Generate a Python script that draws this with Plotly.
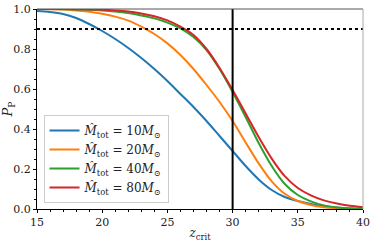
import plotly.graph_objects as go

z_crit = list(range(15, 41))

p_10 = [0.99, 0.985, 0.975, 0.955, 0.925, 0.89, 0.85, 0.805, 0.755, 0.70, 0.64, 0.575, 0.51,
        0.44, 0.365, 0.29, 0.215, 0.148, 0.095, 0.06, 0.04, 0.025, 0.014, 0.007, 0.003, 0.001]
p_20 = [1.0, 0.999, 0.997, 0.993, 0.986, 0.976, 0.962, 0.942, 0.912, 0.875, 0.828, 0.77, 0.70,
        0.62, 0.535, 0.44, 0.333, 0.228, 0.138, 0.076, 0.04, 0.02, 0.009, 0.004, 0.002, 0.001]
p_40 = [1.0, 1.0, 0.999, 0.998, 0.996, 0.993, 0.988, 0.98, 0.968, 0.953, 0.932, 0.903, 0.86,
        0.795, 0.70, 0.585, 0.46, 0.33, 0.215, 0.125, 0.07, 0.038, 0.018, 0.008, 0.003, 0.001]
p_80 = [1.0, 1.0, 1.0, 0.999, 0.998, 0.996, 0.993, 0.988, 0.978, 0.964, 0.943, 0.912, 0.87,
        0.80, 0.705, 0.595, 0.478, 0.36, 0.252, 0.164, 0.105, 0.068, 0.043, 0.027, 0.016, 0.009]

series = [
    ("10", p_10, "#1f77b4"),
    ("20", p_20, "#ff7f0e"),
    ("40", p_40, "#2ca02c"),
    ("80", p_80, "#d62728"),
]

threshold = 0.9
z_mark = 30

FONT = "DejaVu Serif"

fig = go.Figure()
for m, vals, col in series:
    fig.add_trace(go.Scatter(
        x=z_crit, y=vals, mode="lines",
        line=dict(color=col, width=2, shape="spline", smoothing=0.8),
        name=f"<i>M̂</i><sub>tot</sub> = {m}<i>M</i><sub>⊙</sub>",
    ))

fig.add_hline(y=threshold, line=dict(color="black", width=2, dash="dot"))
fig.add_vline(x=z_mark, line=dict(color="black", width=2))

# top and right frame lines
fig.add_shape(type="line", xref="paper", yref="paper", x0=0, x1=1, y0=1, y1=1,
              line=dict(color="#555555", width=1))
fig.add_shape(type="line", xref="paper", yref="paper", x0=1, x1=1, y0=0, y1=1,
              line=dict(color="#aaaaaa", width=1))

fig.update_layout(
    width=374, height=243,
    margin=dict(l=37, r=11, t=9, b=34),
    paper_bgcolor="white", plot_bgcolor="white",
    font=dict(family=FONT, size=12, color="#222"),
    showlegend=True,
    legend=dict(x=0.02, y=0.47, xanchor="left", yanchor="top",
                bgcolor="white", bordercolor="#cccccc", borderwidth=1,
                font=dict(family=FONT, size=12), itemwidth=30),
    xaxis=dict(range=[15, 40], tickvals=[15, 20, 25, 30, 35, 40],
               automargin=False,
               showgrid=False, zeroline=False, showline=True, linecolor="black", linewidth=1,
               ticks="outside", ticklen=3, tickcolor="black",
               tickfont=dict(family=FONT, size=11),
               minor=dict(dtick=1, ticks="outside", ticklen=2, tickcolor="black"),
               title=dict(text="<i>z</i><sub>crit</sub>", standoff=0, font=dict(family=FONT, size=12))),
    yaxis=dict(range=[0, 1], tickvals=[0, 0.2, 0.4, 0.6, 0.8, 1.0],
               ticktext=["0.0", "0.2", "0.4", "0.6", "0.8", "1.0"],
               automargin=False,
               showgrid=False, zeroline=False, showline=True, linecolor="black", linewidth=1,
               ticks="outside", ticklen=3, tickcolor="black",
               tickfont=dict(family=FONT, size=11),
               minor=dict(dtick=0.05, ticks="outside", ticklen=2, tickcolor="black"),
               title=dict(text="<i>P</i><sub>P</sub>", standoff=2, font=dict(family=FONT, size=13))),
)

fig.write_html("out.html", config={"displayModeBar": False},
               post_script="document.body.style.margin='0';")
